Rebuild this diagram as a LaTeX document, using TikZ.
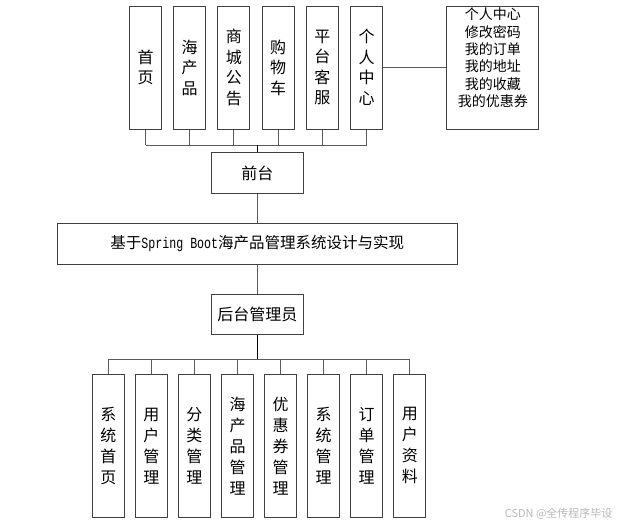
\documentclass[tikz,border=0pt]{standalone}
\usepackage{fontspec}
\setmainfont{Noto Sans CJK SC}
\newfontfamily\monofont[FakeStretch=0.75]{Liberation Mono}
\definecolor{boxline}{RGB}{64,64,64}
\definecolor{linkgray}{RGB}{90,90,90}
\tikzset{
  box/.style={draw=boxline,line width=1pt,inner sep=0pt,font=\fontsize{16}{20.5}\selectfont},
  vbox/.style={box,minimum width=32pt,align=center},
  link/.style={draw=linkgray,line width=0.9pt},
  mainlink/.style={draw=black,line width=1.2pt}
}
\begin{document}
\begin{tikzpicture}[x=1pt,y=-1pt]
	  \useasboundingbox [fill=white] (0,0) rectangle (620,525);
	  \foreach \i/\t in {0/首\\页, 1/海\\产\\品, 2/商\\城\\公\\告, 3/购\\物\\车, 4/平\\台\\客\\服, 5/个\\人\\中\\心}{
	  	\node [vbox,minimum height=123pt] at (145.5+44.2*\i,67.5) (t\i) {\t};
	  }
	  \node [box,minimum width=92.3pt,minimum height=123pt] at (492.8,67.5) (grzx) {\parbox[c][119pt][t]{92pt}{\centering\fontsize{14}{17.4}\selectfont 个人中心\\修改密码\\我的订单\\我的地址\\我的收藏\\我的优惠券}};
	  \node [box,minimum width=92pt,minimum height=40.6pt] at (257.3,173) (qt) {前台};
	  \node [box,minimum width=400pt,minimum height=41pt,font=\fontsize{15.5}{19}\selectfont] at (257.3,243.7) (sys) {基于{\monofont Spring Boot}海产品管理系统设计与实现};
	  \node [box,minimum width=92pt,minimum height=40.3pt] at (257.3,314.2) (ht) {后台管理员};
	  \foreach \i/\t in {0/系\\统\\首\\页, 1/用\\户\\管\\理, 2/分\\类\\管\\理, 3/海\\产\\品\\管\\理, 4/优\\惠\\券\\管\\理, 5/系\\统\\管\\理, 6/订\\单\\管\\理, 7/用\\户\\资\\料}{
	  	\node [vbox,minimum height=143pt,font=\fontsize{16}{21}\selectfont] at (108.3+43.07*\i,445.8) (b\i) {\t};
	  }
	  \coordinate (topbus) at (257.3,145);
	  \coordinate (botbus) at (257.3,359.3);
	  \foreach \i in {0,...,5}{
	  	\draw [link] (t\i.south) -- (t\i.south |- topbus);
	  }
	  \draw [link] (t0.south |- topbus) -- (t5.south |- topbus);
	  \draw [mainlink] (topbus) -- (qt.north);
	  \draw [link] (t5.east) -- (t5.east -| grzx.west);
	  \draw [link] (qt) -- (sys);
	  \draw [link] (sys) -- (ht);
	  \draw [mainlink] (ht.south) -- (botbus);
	  \foreach \i in {0,...,7}{
	  	\draw [link] (b\i.north) -- (b\i.north |- botbus);
	  }
	  \draw [link] (b0.north |- botbus) -- (b7.north |- botbus);
	  \node [text=gray!55,font=\fontsize{11}{13}\selectfont,anchor=east] at (616,514) (wm) {CSDN @全传程序毕设};
	\end{tikzpicture}
\end{document}
